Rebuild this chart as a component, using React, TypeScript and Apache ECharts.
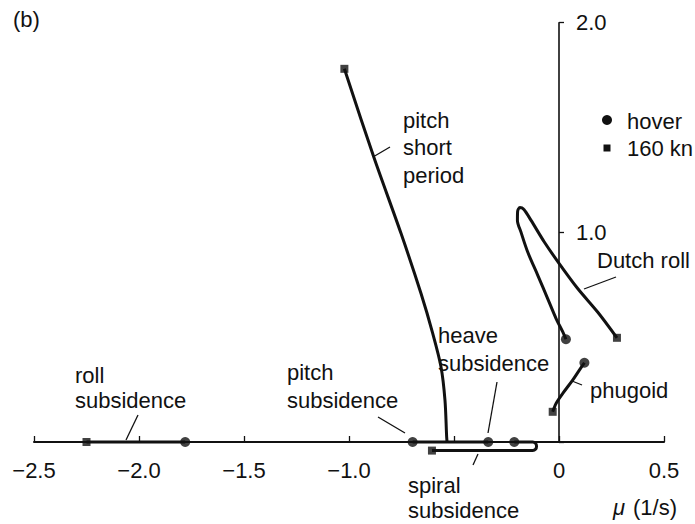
import React, { useEffect, useRef } from "react";
import * as echarts from "echarts";

// ---- data (real part mu, imaginary part omega) ----
const xTicks = [-2.5, -2.0, -1.5, -1.0, -0.5, 0, 0.5];
const xHiddenLabels = [-0.5];
const yTicks = [0, 1.0, 2.0];

const rollSubsidence = [[-2.25, 0], [-1.78, 0]];
const pitchSubsidence = [[-0.697, 0], [-0.533, 0]];
const heaveSubsidence = [[-0.337, 0], [-0.533, 0]];
const pitchShortPeriod = [
  [-0.533, 0], [-0.535, 0.025], [-0.543, 0.2], [-0.562, 0.359], [-0.601, 0.517],
  [-0.657, 0.708], [-0.752, 0.994], [-0.882, 1.359], [-1.022, 1.78],
];
const spiralSubsidence = [
  [-0.213, 0], [-0.125, 0], [-0.112, -0.006], [-0.107, -0.02], [-0.112, -0.035],
  [-0.125, -0.041], [-0.605, -0.041],
];
const dutchRoll = [
  [0.033, 0.49], [0.018, 0.525], [-0.014, 0.589], [-0.054, 0.684], [-0.101, 0.795],
  [-0.149, 0.906], [-0.181, 1.001], [-0.198, 1.057], [-0.197, 1.1], [-0.186, 1.119],
  [-0.168, 1.11], [-0.133, 1.057], [-0.07, 0.954], [0.001, 0.851], [0.089, 0.732],
  [0.184, 0.62], [0.276, 0.497],
];
const phugoid = [[-0.03, 0.144], [-0.014, 0.184], [0.018, 0.232], [0.065, 0.295], [0.097, 0.343], [0.121, 0.378]];

const hoverPoints = [[-1.78, 0], [-0.697, 0], [-0.337, 0], [-0.213, 0], [0.033, 0.49], [0.121, 0.378]];
const knots160Points = [[-2.25, 0], [-1.022, 1.78], [-0.605, -0.041], [0.276, 0.497], [-0.03, 0.144]];

const FONT = '"Liberation Sans", Arial, Helvetica, sans-serif';
const FS = 22;
const INK = "#111";

const annotations = [
  { lines: ["roll", "subsidence"], x: 75, y: 375, lh: 25 },
  { lines: ["pitch", "subsidence"], x: 287, y: 372, lh: 28 },
  { lines: ["pitch", "short", "period"], x: 403, y: 120, lh: 27.5 },
  { lines: ["heave", "subsidence"], x: 438, y: 335, lh: 28 },
  { lines: ["spiral", "subsidence"], x: 408, y: 485, lh: 25 },
  { lines: ["Dutch roll"], x: 597, y: 260, lh: 25 },
  { lines: ["phugoid"], x: 590, y: 390, lh: 25 },
  { lines: ["(b)"], x: 13, y: 19, lh: 25 },
  { lines: ["hover"], x: 627, y: 121, lh: 25 },
  { lines: ["160 kn"], x: 627, y: 148, lh: 25 },
  { lines: ["(1/s)"], x: 633, y: 507, lh: 25 },
];

const leaders = [
  [138, 415, 126, 440],
  [378, 417, 405, 433],
  [390, 147, 373, 157],
  [497, 382, 488, 433],
  [478, 454, 473, 465],
  [616, 277, 584, 289],
  [582, 385, 572, 381],
];

function fmt(v: number): string {
  if (xHiddenLabels.some((h) => Math.abs(h - v) < 1e-9)) return "";
  if (v === 0) return "0";
  const s = v.toFixed(1);
  return s.replace("-", "\u2212");
}

function curve(name: string, data: number[][], smooth: number | boolean = 0.25) {
  return {
    type: "line",
    name,
    data,
    symbol: "none",
    showSymbol: false,
    smooth,
    clip: false,
    silent: true,
    z: 3,
    lineStyle: { color: INK, width: 3 },
  };
}

const GRID_LEFT = 34;
const GRID_RIGHT = 31;
const PLOT_W = 695 - GRID_LEFT - GRID_RIGHT;

export default function App() {
  const ref = useRef<HTMLDivElement>(null);
  useEffect(() => {
    const chart = echarts.init(ref.current!, null, { renderer: "svg" });
    const graphic: any[] = [];
    annotations.forEach((a) => {
      graphic.push({
        type: "text",
        x: a.x,
        y: a.y - a.lh / 2,
        silent: true,
        style: {
          text: a.lines.join("\n"),
          fill: INK,
          font: `${FS}px ${FONT}`,
          lineHeight: a.lh,
          verticalAlign: "top",
          align: "left",
        },
      });
    });
    graphic.push({
      type: "text",
      x: 613,
      y: 507 - 12.5,
      silent: true,
      style: { text: "\u03bc", fill: INK, font: `italic ${FS}px ${FONT}`, lineHeight: 25, verticalAlign: "top" },
    });
    leaders.forEach((l) => {
      graphic.push({
        type: "line",
        silent: true,
        shape: { x1: l[0], y1: l[1], x2: l[2], y2: l[3] },
        style: { stroke: INK, lineWidth: 1.3 },
      });
    });
    graphic.push({ type: "circle", silent: true, shape: { cx: 607, cy: 120, r: 5 }, style: { fill: INK } });
    graphic.push({ type: "rect", silent: true, shape: { x: 603.5, y: 144.5, width: 7, height: 7 }, style: { fill: INK } });

    const xMin = xTicks[0];
    const xMax = xTicks[xTicks.length - 1];
    const zeroOffset = (PLOT_W * (0 - xMin)) / (xMax - xMin);

    chart.setOption({
      animation: false,
      backgroundColor: "#fff",
      grid: { left: GRID_LEFT, right: GRID_RIGHT, top: 22.7, bottom: 82, containLabel: false },
      xAxis: {
        type: "value",
        min: xMin,
        max: xMax,
        interval: 0.5,
        axisLine: { onZero: true, lineStyle: { color: INK, width: 2 } },
        axisTick: { inside: true, length: 6, lineStyle: { color: INK, width: 1.3 } },
        axisLabel: { color: INK, fontSize: FS, fontFamily: FONT, margin: 17, formatter: fmt },
        splitLine: { show: false },
      },
      yAxis: {
        type: "value",
        position: "left",
        offset: -zeroOffset,
        min: yTicks[0],
        max: yTicks[yTicks.length - 1],
        interval: 1,
        axisLine: { onZero: false, lineStyle: { color: INK, width: 1.6 } },
        axisTick: { inside: true, length: 5, lineStyle: { color: INK, width: 1.3 } },
        axisLabel: {
          inside: true,
          color: INK,
          fontSize: FS,
          fontFamily: FONT,
          margin: 17,
          formatter: (v: number) => (v === 0 ? "" : v.toFixed(1)),
        },
        splitLine: { show: false },
      },
      series: [
        curve("roll subsidence", rollSubsidence, false),
        curve("pitch subsidence", pitchSubsidence, false),
        curve("heave subsidence", heaveSubsidence, false),
        curve("pitch short period", pitchShortPeriod, 0.3),
        curve("spiral subsidence", spiralSubsidence, 0.15),
        curve("Dutch roll", dutchRoll, 0.3),
        curve("phugoid", phugoid, 0.3),
        {
          type: "scatter",
          name: "hover",
          data: hoverPoints,
          symbol: "circle",
          symbolSize: 10,
          clip: false,
          silent: true,
          z: 5,
          itemStyle: { color: INK },
        },
        {
          type: "scatter",
          name: "160 kn",
          data: knots160Points,
          symbol: "rect",
          symbolSize: 8,
          clip: false,
          silent: true,
          z: 5,
          itemStyle: { color: INK },
        },
      ],
      graphic,
    });
    return () => chart.dispose();
  }, []);
  return (
    <div
      ref={ref}
      style={{ position: "fixed", left: 0, top: 0, width: 695, height: 524, background: "#fff" }}
    />
  );
}
